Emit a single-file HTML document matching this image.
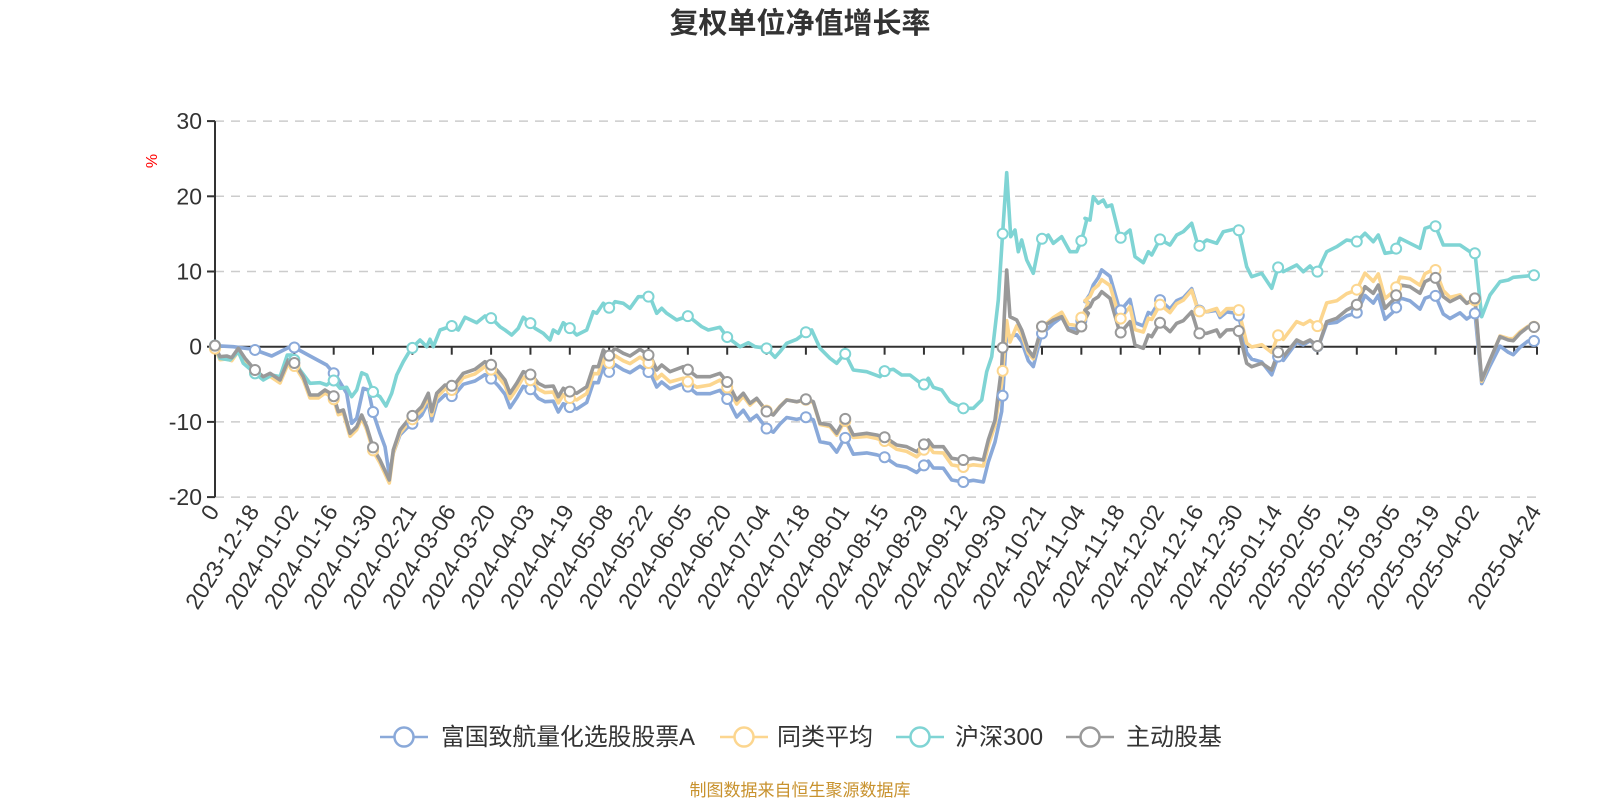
<!DOCTYPE html>
<html><head><meta charset="utf-8"><style>
html,body{margin:0;padding:0;background:#fff;width:1600px;height:800px;overflow:hidden}
svg{display:block}
text{font-family:"Liberation Sans","Noto Sans CJK SC",sans-serif}
</style></head><body>
<svg id="c" width="1600" height="800" viewBox="0 0 1600 800" xmlns="http://www.w3.org/2000/svg">
<text x="800" y="33" text-anchor="middle" font-size="29" font-weight="bold" fill="#333">复权单位净值增长率</text>
<text transform="translate(157,161) rotate(-90)" text-anchor="middle" font-size="16" fill="#f00">%</text>
<g id="grid"></g>
<g id="series" fill="none" stroke-width="3.6" stroke-linejoin="round"></g>
<g id="marks"></g>
<g id="legend" font-size="24" fill="#333">
 <line x1="380" y1="737" x2="428" y2="737" stroke="#8aa9d9" stroke-width="2.5"/><circle cx="404" cy="737" r="9.5" fill="#fff" stroke="#8aa9d9" stroke-width="2.5"/>
 <text x="441" y="745" textLength="254" lengthAdjust="spacingAndGlyphs">富国致航量化选股股票A</text>
 <line x1="720" y1="737" x2="768" y2="737" stroke="#fcd68f" stroke-width="2.5"/><circle cx="744" cy="737" r="9.5" fill="#fff" stroke="#fcd68f" stroke-width="2.5"/>
 <text x="777" y="745">同类平均</text>
 <line x1="896" y1="737" x2="944" y2="737" stroke="#7fd4d4" stroke-width="2.5"/><circle cx="920" cy="737" r="9.5" fill="#fff" stroke="#7fd4d4" stroke-width="2.5"/>
 <text x="955" y="745">沪深300</text>
 <line x1="1066" y1="737" x2="1114" y2="737" stroke="#999" stroke-width="2.5"/><circle cx="1090" cy="737" r="9.5" fill="#fff" stroke="#999" stroke-width="2.5"/>
 <text x="1126" y="745">主动股基</text>
</g>
<text x="800" y="796" text-anchor="middle" font-size="17" fill="#c8922e">制图数据来自恒生聚源数据库</text>
</svg>
<script>
var NS="http://www.w3.org/2000/svg";
function el(t,a,p){var e=document.createElementNS(NS,t);for(var k in a)e.setAttribute(k,a[k]);(p||document.getElementById('c')).appendChild(e);return e;}
var X0=215,X1=1537,Y0=346.7,U=7.52;
var g=document.getElementById('grid');
[30,20,10,-10,-20].forEach(function(v){var y=Y0-v*U;el('line',{x1:X0,x2:X1,y1:y,y2:y,stroke:'#ccc','stroke-width':1.5,'stroke-dasharray':'9,7'},g);});
[30,20,10,0,-10,-20].forEach(function(v){var y=Y0-v*U;el('line',{x1:X0-8,x2:X0,y1:y,y2:y,stroke:'#333','stroke-width':2},g);
 var t=el('text',{x:X0-13,y:y+8,'text-anchor':'end','font-size':23,fill:'#333'},g);t.textContent=v;});
el('line',{x1:X0,x2:X0,y1:Y0-30*U,y2:Y0+20*U,stroke:'#333','stroke-width':2},g);
el('line',{x1:X0,x2:X1,y1:Y0,y2:Y0,stroke:'#333','stroke-width':2},g);
var dates=["2023-12-18","2024-01-02","2024-01-16","2024-01-30","2024-02-21","2024-03-06","2024-03-20","2024-04-03","2024-04-19","2024-05-08","2024-05-22","2024-06-05","2024-06-20","2024-07-04","2024-07-18","2024-08-01","2024-08-15","2024-08-29","2024-09-12","2024-09-30","2024-10-21","2024-11-04","2024-11-18","2024-12-02","2024-12-16","2024-12-30","2025-01-14","2025-02-05","2025-02-19","2025-03-05","2025-03-19","2025-04-02"];
var tx=[];for(var k=0;k<33;k++)tx.push(255+39.35*k);
tx.concat([X1]).forEach(function(x){el('line',{x1:x,x2:x,y1:Y0,y2:Y0+8,stroke:'#333','stroke-width':2},g);});
function lab(x,s){var t=el('text',{transform:'translate('+(x+5)+','+(Y0+20*U+14)+') rotate(-58)','text-anchor':'end','font-size':23,fill:'#333'},g);t.textContent=s;}
lab(X0,"0");dates.forEach(function(d,i){lab(tx[i],d);});lab(X1,"2025-04-24");
function conv(segs){var r=[];segs.forEach(function(s){var ox=s[0];for(var i=0;i<s[1].length;i+=2)r.push([ox+s[1][i]/3,100+s[1][i+1]/3]);});return r;}
var teal=conv([[200,[45,737,60,775,90,780,115,755,130,790,165,820,190,840,215,825,240,830,262,765,275,765,300,810,330,850,360,848,380,855,400,840,420,865,440,862,455,890,470,870,485,818,500,825,520,878,540,890,558,918,575,880,590,825,610,785,625,760,640,740,660,720,680,740,690,718,700,740,720,690,755,678,775,690,795,652,830,668,855,648,875,655,900,680,915,690,935,705,955,685,970,652,990,668,1005,685,1030,700,1050,720,1060,690,1075,700,1090,668,1110,685,1130,705,1160,690,1180,635,1190,640,1210,610,1230,625,1245,605,1270,610,1290,625,1315,590,1345,590]],
[640,[30,590,50,640,65,625,80,640,110,660,145,648,185,680,205,690,240,682,260,710,300,740,325,728,345,740,380,745,405,772,420,755,440,730,470,718,500,695,515,690,540,745,570,775,590,790,615,760,640,810,680,815,720,830,735,812,760,808,785,825,810,825,850,856,865,835,880,862,905,870,930,905,970,925,1000,925,1025,900,1040,815,1055,770,1075,600,1090,370,1100,218,1112,410,1125,390,1135,455,1145,420,1160,480,1180,520,1200,420,1225,405,1240,430,1265,410,1290,455,1310,455,1325,420,1340,360]],
[1080,[15,355,30,360,40,290,55,310,70,300,80,320,95,315,120,415,150,390,165,470,190,488,205,455,215,465,240,418,270,435,290,405,310,395,335,370,355,440,380,420,410,430,430,395,475,385,500,500,515,530,545,520,575,565,595,500,610,515,650,495,670,515,690,498,710,520,740,455,770,440,800,420,830,425,855,400,880,425,895,405,915,460,945,455,960,415,990,430,1020,445,1035,385,1065,375,1090,435,1140,435,1170,455,1185,460,1205,650,1230,585,1260,545,1285,540,1300,532,1320,530,1371,525]]]);
var gray=conv([[200,[45,737,60,770,80,768,95,773,115,745,135,775,165,810,190,830,210,820,240,840,265,780,285,790,310,830,330,885,355,885,375,870,400,885,415,935,430,930,450,1000,470,980,485,945,500,980,520,1045,540,1080,568,1140,580,1050,600,990,620,965,640,945,665,920,685,880,695,935,710,880,735,855,760,858,790,820,825,808,855,785,875,795,895,815,915,840,930,880,950,850,970,815,995,825,1015,850,1035,860,1060,858,1075,890,1090,865,1110,875,1130,880,1160,860,1180,800,1195,800,1210,750,1225,770,1245,745,1270,760,1290,768,1320,748,1345,765]],
[640,[30,765,50,810,65,795,90,815,130,800,145,810,170,830,210,830,240,820,265,850,290,900,310,880,330,910,350,895,380,935,400,945,420,920,440,900,470,905,500,897,520,905,540,970,570,975,590,1000,615,955,640,1005,680,1000,710,1005,735,1012,770,1035,800,1040,830,1055,865,1020,880,1040,910,1040,935,1075,970,1080,1000,1075,1030,1080,1045,1020,1065,960,1085,800,1100,510,1110,650,1130,660,1145,690,1165,750,1180,770,1205,680,1225,670,1240,660,1265,650,1285,690,1310,700,1325,678,1345,640]],
[1080,[15,630,30,620,40,600,55,590,65,575,90,595,120,700,150,665,165,735,190,745,205,705,215,710,240,668,270,695,290,670,310,662,335,635,355,700,380,700,410,690,420,710,440,690,475,688,500,790,515,800,545,790,575,810,595,755,610,770,650,720,670,730,690,720,715,740,740,665,770,655,800,630,830,615,855,560,880,580,895,555,915,625,945,595,960,555,990,560,1020,580,1035,545,1065,530,1090,590,1110,605,1140,590,1160,610,1185,595,1205,840,1230,780,1260,710,1285,720,1300,722,1320,700,1344,681,1371,681]]]);
function interp(kn,x){if(x<=kn[0][0])return kn[0][1];for(var i=1;i<kn.length;i++)if(x<=kn[i][0]){var a=kn[i-1],b=kn[i];return a[1]+(b[1]-a[1])*(x-a[0])/(b[0]-a[0]);}return kn[kn.length-1][1];}
var bk=[[393,3],[413,8],[480,12],[490,14],[648,17],[767,17],[963,22],[995,22],[1007,63],[1010,20],[1020,12],[1033,10],[1082,-6],[1102,-22],[1198,-23],[1238,-16],[1272,5],[1317,0],[1357,8],[1395,12],[1435,18],[1475,15],[1482,3],[1513,14],[1537,14]];
var ok=[[215,3],[393,3],[648,8],[688,12],[767,-1],[963,7],[1000,5],[1007,53],[1012,7],[1082,-9],[1102,-12],[1198,-22],[1238,-21],[1278,-17],[1317,-20],[1357,-15],[1395,-8],[1435,-8],[1475,2],[1513,-2],[1537,0]];
var blueEarly=conv([[200,[45,737,100,740,160,748,215,768,275,738,330,768,380,795,410,830,440,880,455,970,470,955,490,865,505,870,520,940,540,1000,555,1040,568,1125,580,1060]]]);
var blue=blueEarly.concat(gray.filter(function(p){return p[0]>394;}).map(function(p){return [p[0],p[1]+interp(bk,p[0])];}));
var orange=gray.map(function(p){return [p[0],p[1]+interp(ok,p[0])];});
var S=[[blue,'#8aa9d9'],[orange,'#fcd68f'],[teal,'#7fd4d4'],[gray,'#999']];
var sg=document.getElementById('series'),mg=document.getElementById('marks');
function yAt(pts,x){if(x<=pts[0][0])return pts[0][1];for(var i=1;i<pts.length;i++)if(x<=pts[i][0]){var a=pts[i-1],b=pts[i];return a[1]+(b[1]-a[1])*(x-a[0])/(b[0]-a[0]||1);}return pts[pts.length-1][1];}
var mx=[X0].concat(tx.slice(0,32)).concat([1534]);
S.forEach(function(s){var d=s[0].map(function(p,i){return (i?'L':'M')+p[0].toFixed(1)+','+p[1].toFixed(1);}).join('');
 el('path',{d:d,stroke:s[1]},sg);
 mx.forEach(function(x){el('circle',{cx:x,cy:yAt(s[0],x),r:5,fill:'#fff',stroke:s[1],'stroke-width':2},mg);});});
</script>
</body></html>
